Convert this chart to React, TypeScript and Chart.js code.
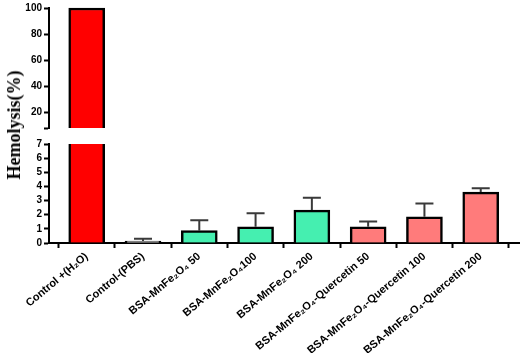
import React, { useEffect, useRef } from 'react';
import { Chart, registerables } from 'chart.js';
Chart.register(...registerables);

const categories = [
  'Control +(H₂O)',
  'Control-(PBS)',
  'BSA-MnFe₂O₄ 50',
  'BSA-MnFe₂O₄100',
  'BSA-MnFe₂O₄ 200',
  'BSA-MnFe₂O₄-Quercetin 50',
  'BSA-MnFe₂O₄-Quercetin 100',
  'BSA-MnFe₂O₄-Quercetin 200',
];
const means = [100, 0.14, 0.87, 1.15, 2.33, 1.15, 1.85, 3.6];
const sds = [0, 0.16, 0.73, 0.95, 0.87, 0.37, 0.95, 0.27];
const barColors = ['#ff0000', '#ffffff', '#45efb0', '#45efb0', '#45efb0', '#ff7b7b', '#ff7b7b', '#ff7b7b'];
const topTicks = [20, 40, 60, 80, 100];
const bottomTicks = [0, 1, 2, 3, 4, 5, 6, 7];
const topMin = 8;
const topMax = 100;
const bottomMax = 7;
const yTitle = 'Hemolysis(%)';

const FONT = "'Liberation Sans', Arial, sans-serif";

const errPlugin = {
  id: 'errbars',
  afterDatasetsDraw(chart: any) {
    const meta = chart.getDatasetMeta(0);
    const ys = chart.scales.y;
    const ctx = chart.ctx;
    ctx.save();
    ctx.strokeStyle = '#3a3a3a';
    ctx.lineWidth = 2;
    means.forEach((m, i) => {
      const sd = sds[i];
      if (!sd || m + sd > bottomMax) return;
      const el = meta.data[i];
      if (!el) return;
      const x = el.x;
      const y0 = ys.getPixelForValue(m);
      const y1 = ys.getPixelForValue(m + sd);
      ctx.beginPath();
      ctx.moveTo(x, y0);
      ctx.lineTo(x, y1);
      ctx.moveTo(x - 9, y1);
      ctx.lineTo(x + 9, y1);
      ctx.stroke();
    });
    ctx.restore();
  },
};

function xScale(display: boolean) {
  return {
    type: 'linear' as const,
    display,
    min: -0.67,
    max: 7.68,
    offset: false,
    afterBuildTicks(scale: any) {
      scale.ticks = categories.map((_, i) => ({ value: i }));
    },
    afterFit(scale: any) {
      if (display) scale.height = 110;
    },
    ticks: {
      autoSkip: false,
      minRotation: 40,
      maxRotation: 40,
      color: '#000',
      padding: 2,
      font: { family: FONT, size: 11, weight: 'bold' as const },
      callback: (v: any) => categories[v] ?? '',
    },
    grid: {
      drawOnChartArea: false,
      drawTicks: true,
      tickLength: 5,
      tickWidth: 2,
      tickColor: '#000',
    },
    border: { color: '#000', width: 2 },
  };
}

function yGrid() {
  return {
    drawOnChartArea: false,
    drawTicks: true,
    tickLength: 5,
    tickWidth: 2,
    tickColor: '#000',
  };
}

export default function App() {
  const topRef = useRef<HTMLCanvasElement>(null);
  const botRef = useRef<HTMLCanvasElement>(null);

  useEffect(() => {
    const topData = means.map((v, i) => ({ x: i, y: v > topMin ? v : null }));
    const botData = means.map((v, i) => ({ x: i, y: v }));

    const common = {
      animation: false as const,
      responsive: false,
      plugins: { legend: { display: false }, tooltip: { enabled: false }, title: { display: false } },
    };

    const top = new Chart(topRef.current!, {
      type: 'bar',
      data: {
        datasets: [
          {
            data: topData as any,
            backgroundColor: barColors,
            borderColor: '#000',
            borderWidth: 2.5,
            borderSkipped: 'start',
            barThickness: 36,
            clip: { left: 5, top: 5, right: 5, bottom: 0 } as any,
          },
        ],
      },
      options: {
        ...common,
        layout: { padding: { left: 0, right: 3, top: 6, bottom: 3 } },
        scales: {
          x: xScale(false) as any,
          y: {
            min: topMin,
            max: topMax,
            afterFit(scale: any) {
              scale.width = 49;
            },
            afterBuildTicks(scale: any) {
              scale.ticks = [topMin, ...topTicks].map((v) => ({ value: v }));
            },
            ticks: {
              autoSkip: false,
              color: '#000',
              padding: 2,
              font: { family: FONT, size: 10, weight: 'bold' },
              callback: (v: any) => (v === topMin ? '' : String(v)),
            },
            grid: yGrid(),
            border: { color: '#000', width: 2 },
          } as any,
        },
      },
    });

    const bot = new Chart(botRef.current!, {
      type: 'bar',
      data: {
        datasets: [
          {
            data: botData as any,
            backgroundColor: barColors,
            borderColor: '#000',
            borderWidth: 2.5,
            borderSkipped: 'start',
            barThickness: 36,
            clip: { left: 5, top: 0, right: 5, bottom: 5 } as any,
          },
        ],
      },
      options: {
        ...common,
        layout: { padding: { left: 0, right: 3, top: 7, bottom: 0 } },
        scales: {
          x: xScale(true) as any,
          y: {
            min: 0,
            max: bottomMax,
            afterFit(scale: any) {
              scale.width = 49;
            },
            afterBuildTicks(scale: any) {
              scale.ticks = bottomTicks.map((v) => ({ value: v }));
            },
            ticks: {
              autoSkip: false,
              color: '#000',
              padding: 2,
              font: { family: FONT, size: 10, weight: 'bold' },
              callback: (v: any) => String(v),
            },
            grid: yGrid(),
            border: { color: '#000', width: 2 },
          } as any,
        },
      },
      plugins: [errPlugin],
    });

    return () => {
      top.destroy();
      bot.destroy();
    };
  }, []);

  return (
    <div style={{ position: 'absolute', left: 0, top: 0, width: 522, height: 353, background: '#fff' }}>
      <canvas ref={topRef} width={522} height={136} style={{ position: 'absolute', left: 0, top: 0, display: 'block' }} />
      <canvas ref={botRef} width={522} height={217} style={{ position: 'absolute', left: 0, top: 136, display: 'block' }} />
      <div
        style={{
          position: 'absolute',
          left: 14,
          top: 125,
          transform: 'translate(-50%, -50%) rotate(-90deg)',
          fontFamily: "'Liberation Serif', 'Times New Roman', serif",
          fontWeight: 'bold',
          fontSize: 18,
          whiteSpace: 'nowrap',
          color: '#000',
          lineHeight: 1,
        }}
      >
        {yTitle}
      </div>
    </div>
  );
}
